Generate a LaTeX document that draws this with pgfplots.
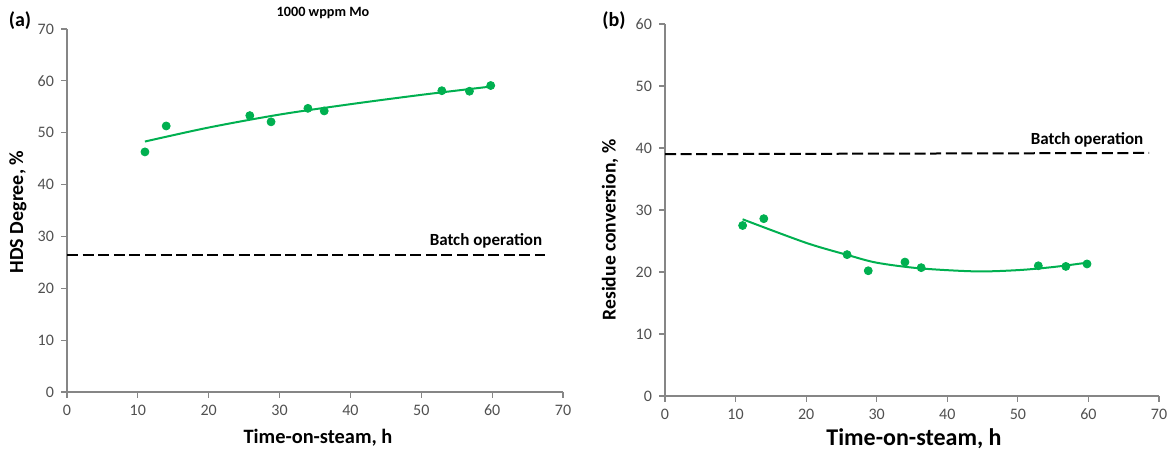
\documentclass[border=0pt]{standalone}
\usepackage{fontspec}
\setmainfont{Carlito}
\usepackage{pgfplots}
\pgfplotsset{compat=1.18}
\definecolor{fitgreen}{HTML}{00B050}
\definecolor{axgray}{HTML}{868686}
\definecolor{lblgray}{HTML}{505050}
\pgfplotsset{
  panel/.style={
    scale only axis, clip=false,
    axis lines*=left,
    axis line style={axgray, line width=0.7pt},
    tick align=outside, major tick length=3pt,
    tick style={axgray, line width=0.6pt},
    xmin=0, xmax=70, ymin=0,
    xtick={0,10,...,70},
    ticklabel style={font=\fontsize{8}{9.5}\selectfont, text=lblgray},
    /pgf/number format/assume math mode=true,
    anchor=origin,
  },
  pts/.style={only marks, mark=*, mark size=2pt, mark options={fill=fitgreen, draw=fitgreen}},
  fit/.style={fitgreen, line width=1pt, smooth, no marks},
  batch/.style={black, line width=1pt, dash pattern=on 5.5pt off 2.3pt},
}
\begin{document}
\begin{tikzpicture}
\useasboundingbox (0,0) rectangle (585.5pt,227pt);

% (a) HDS degree
\begin{axis}[panel, at={(33.5pt,31pt)}, width=248pt, height=181.5pt,
  ymax=70, ytick={0,10,...,70}]
\addplot[pts] coordinates {
  (11.0,46.3) (14.0,51.3) (25.8,53.3) (28.8,52.1) (34.0,54.7)
  (36.3,54.2) (52.9,58.1) (56.8,58.0) (59.8,59.1)};
\addplot[fit] coordinates {
  (11,48.3) (20,51.0) (30,53.5) (40,55.5) (50,57.3) (59.8,58.9)};
\addplot[batch] coordinates {(0,26.4) (67.5,26.4)};
\end{axis}
\node[font=\bfseries\fontsize{10}{12}\selectfont] at (10pt,216.5pt) {(a)};
\node[font=\bfseries\fontsize{10}{12}\selectfont, rotate=90] at (9pt,121pt) {HDS Degree, \%};
\node[font=\bfseries\fontsize{10.2}{12}\selectfont] at (159pt,8pt) {Time-on-steam, h};
\node[font=\bfseries\fontsize{7.1}{8.5}\selectfont] at (161.5pt,220.5pt) {1000 wppm Mo};
\node[font=\bfseries\fontsize{8.5}{10}\selectfont] at (243pt,106.5pt) {Batch operation};

% (b) residue conversion
\begin{axis}[panel, at={(332.5pt,29pt)}, width=247pt, height=186pt,
  ymax=60, ytick={0,10,...,60}]
\addplot[pts] coordinates {
  (11.0,27.5) (14.0,28.6) (25.8,22.8) (28.8,20.2) (34.0,21.6)
  (36.3,20.7) (52.9,21.0) (56.8,20.9) (59.8,21.3)};
\addplot[fit] coordinates {
  (11,28.5) (20,24.7) (26,22.7) (30,21.5) (36,20.6) (44,20.1)
  (50,20.3) (55,20.8) (59.8,21.5)};
\addplot[batch] coordinates {(0,39.0) (68.6,39.2)};
\end{axis}
\node[font=\bfseries\fontsize{10}{12}\selectfont] at (307pt,216.5pt) {(b)};
\node[font=\bfseries\fontsize{9.8}{11}\selectfont, rotate=90] at (305pt,112pt) {Residue conversion, \%};
\node[font=\bfseries\fontsize{12}{14}\selectfont] at (457pt,7.5pt) {Time-on-steam, h};
\node[font=\bfseries\fontsize{8.5}{10}\selectfont] at (543.5pt,157pt) {Batch operation};
\end{tikzpicture}
\end{document}
